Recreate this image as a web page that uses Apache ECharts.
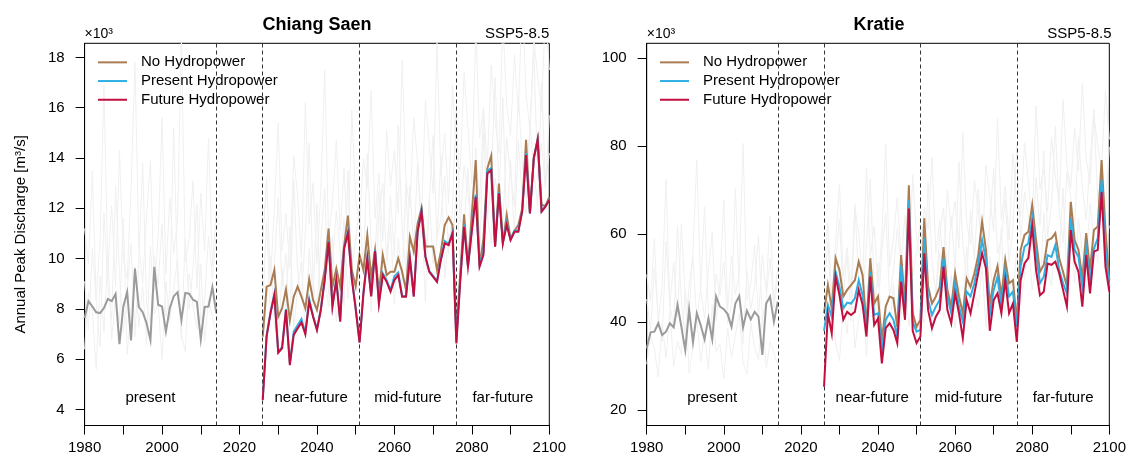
<!DOCTYPE html>
<html>
<head>
<meta charset="utf-8">
<script src="https://cdn.jsdelivr.net/npm/echarts@6/dist/echarts.min.js"></script>
<style>
  html, body { margin: 0; padding: 0; background: #fff; }
  #chart { width: 1129px; height: 461px; }
</style>
</head>
<body>
<div id="chart"></div>
<script>
// ---- axes, periods and ticks ----
const presentYears = yearSpan(1980, 2014);
const futureYears = yearSpan(2026, 2100);
const xTickYears = [1980, 1990, 2000, 2010, 2020, 2030, 2040, 2050, 2060, 2070, 2080, 2090, 2100];
const xLabelYears = [1980, 2000, 2020, 2040, 2060, 2080, 2100];
const periodBreaks = [2014, 2026, 2051, 2076];
const periodNames = ['present', 'near-future', 'mid-future', 'far-future'];
const periodSpans = [[1980, 2014], [2026, 2051], [2051, 2076], [2076, 2100]];
const csTicks = [4, 6, 8, 10, 12, 14, 16, 18];
const krTicks = [20, 40, 60, 80, 100];
const scenarioNames = ['No Hydropower', 'Present Hydropower', 'Future Hydropower'];

function yearSpan(a, b) { const r = []; for (let y = a; y <= b; y++) r.push(y); return r; }

// ---- Chiang Saen, annual peak discharge (x10^3 m3/s) ----
const csPresent = [7.64, 8.31, 8.1, 7.87, 7.84, 8.04, 8.4, 8.31, 8.6, 6.6, 8.1, 8.67, 6.75, 9.61, 8.08, 7.87, 7.44, 6.77, 9.68, 8.17, 8.1, 7.1, 8.04, 8.5, 8.67, 7.57, 8.64, 8.61, 8.37, 8.28, 6.8, 8.08, 8.1, 8.87, 7.84];
const csNoHydro = [
  6.9, 8.89, 8.95, 9.55, 7.69, 8.03, 8.78, 7.56, 8.49, 8.89, 8.49, 8.03, 9.18, 8.36, 7.96, 8.75, 9.55, 11.2, 8.89, 9.61, 8.9, 10.5, 11.71, 9.55, 8.9,
  10.14, 9.55, 10.94, 9.28, 10.34, 8.62, 10.14, 9.35, 9.48, 9.48, 10.01, 9.48, 8.75, 10.87, 10.28, 11.4, 12.0, 10.48, 10.48, 10.48, 9.55, 10.28, 11.34, 11.64, 11.34,
  7.0, 9.4, 11.76, 9.7, 11.8, 13.92, 9.7, 10.81, 13.59, 14.09, 10.5, 12.99, 10.65, 11.74, 10.8, 11.1, 11.34, 12.0, 14.72, 11.85, 14.0, 14.78, 12.13, 12.1, 12.46
];
const csPresentHydro = [
  4.45, 6.95, 7.86, 8.6, 6.3, 6.5, 8.0, 5.85, 7.1, 7.35, 7.6, 7.05, 8.4, 7.72, 7.2, 8.0, 9.2, 10.72, 8.12, 9.18, 7.55, 10.42, 11.08, 9.25, 8.05,
  6.7, 8.65, 10.05, 8.55, 10.35, 8.25, 9.42, 9.15, 8.75, 9.3, 9.45, 8.52, 8.52, 10.05, 8.52, 11.12, 11.95, 10.1, 9.52, 9.32, 9.1, 9.98, 10.7, 10.58, 11.05,
  6.7, 9.2, 11.35, 9.7, 11.2, 12.55, 9.8, 10.25, 13.5, 13.6, 10.5, 12.65, 10.62, 11.42, 10.76, 11.12, 11.1, 11.9, 14.2, 11.8, 14.0, 14.74, 11.9, 12.08, 12.35
];
const csFutureHydro = [
  4.38, 6.9, 7.83, 8.55, 6.26, 6.44, 7.96, 5.77, 6.97, 7.23, 7.46, 7.0, 8.29, 7.69, 7.16, 7.96, 9.15, 10.67, 8.09, 9.15, 7.5, 10.4, 11.01, 9.2, 8.0,
  6.66, 8.6, 10.0, 8.5, 10.3, 8.2, 9.35, 9.08, 8.69, 9.15, 9.35, 8.49, 8.49, 10.01, 8.49, 11.07, 11.87, 10.08, 9.48, 9.28, 9.08, 9.95, 10.61, 10.54, 11.0,
  6.63, 9.1, 11.27, 9.68, 11.1, 12.46, 9.68, 10.15, 13.39, 13.52, 10.48, 12.6, 10.61, 11.34, 10.74, 11.07, 11.07, 11.87, 14.12, 11.8, 14.0, 14.72, 11.87, 12.07, 12.33
];
// individual climate-model members (pale background)
const csMemberAPast = [9.1, 7.2, 10.4, 8.3, 6.5, 11.8, 8.9, 7.6, 12.9, 9.4, 7.1, 8.8, 10.6, 6.9, 9.9, 13.8, 8.2, 7.4, 10.1, 9.0, 11.4, 7.7, 8.6, 15.2, 9.3, 6.8, 10.8, 8.0, 9.6, 12.2, 7.5, 8.4, 10.9, 9.2, 11.0];
const csMemberAFuture = [8.2, 11.5, 7.6, 9.8, 12.4, 8.9, 10.2, 7.3, 13.1, 9.5, 8.4, 11.0, 14.6, 9.1, 7.9, 10.7, 12.8, 8.6, 9.9, 11.9, 10.3, 8.1, 13.5, 9.6, 10.8, 12.1, 9.4, 14.2, 10.6, 8.8, 11.7, 13.0, 9.9, 12.5, 10.1, 15.3, 11.2, 9.5, 12.9, 10.4, 13.8, 11.0, 9.7, 12.3, 14.9, 10.8, 11.6, 13.3, 10.2, 12.0, 16.1, 11.4, 13.7, 12.6, 10.9, 14.4, 12.2, 15.8, 11.5, 13.1, 17.2, 12.7, 11.3, 14.8, 13.4, 12.1, 16.5, 13.9, 12.4, 15.1, 18.3, 13.2, 14.6, 12.8, 15.7];
const csMemberBPast = [6.4, 8.7, 7.9, 5.6, 9.3, 7.1, 10.2, 6.8, 8.5, 7.4, 11.6, 6.2, 8.0, 9.7, 7.3, 8.9, 6.6, 10.5, 7.8, 8.2, 6.0, 9.1, 7.5, 8.8, 10.0, 7.0, 6.3, 9.4, 8.1, 7.2, 9.8, 6.7, 8.4, 7.7, 6.9];
const csMemberBFuture = [6.9, 8.3, 10.1, 7.4, 6.5, 9.6, 8.0, 11.3, 7.2, 8.8, 9.9, 6.8, 10.4, 8.5, 12.2, 7.7, 9.3, 8.1, 10.9, 7.5, 9.0, 11.6, 8.4, 10.0, 7.8, 9.4, 8.6, 11.1, 7.9, 10.3, 12.7, 8.9, 9.7, 11.4, 8.2, 10.8, 9.1, 13.0, 8.7, 10.5, 9.5, 11.8, 8.3, 12.4, 9.8, 10.7, 14.1, 9.2, 11.0, 10.2, 12.9, 9.6, 11.3, 13.6, 10.4, 12.0, 9.9, 15.0, 11.7, 10.6, 13.2, 12.3, 16.4, 11.1, 13.9, 10.9, 14.7, 12.5, 11.8, 15.5, 13.4, 12.1, 17.0, 13.0, 14.2];
const csMemberCPast = [11.2, 9.8, 13.5, 8.4, 10.7, 16.9, 9.6, 12.1, 8.9, 14.3, 10.0, 9.2, 12.8, 17.8, 10.5, 9.0, 11.7, 13.9, 8.7, 10.9, 15.6, 9.4, 12.4, 10.2, 11.5, 18.9, 9.9, 10.8, 13.1, 8.8, 12.6, 10.3, 14.8, 9.7, 11.9];
const csMemberCFuture = [10.6, 13.2, 9.1, 12.0, 15.4, 10.3, 11.8, 9.6, 14.1, 12.5, 10.0, 16.2, 11.4, 13.0, 9.8, 12.7, 17.5, 10.9, 12.2, 14.7, 11.1, 13.6, 10.4, 15.9, 12.4, 11.3, 14.0, 12.8, 16.7, 11.6, 13.4, 10.7, 15.1, 12.9, 14.3, 11.8, 17.9, 13.1, 12.0, 15.6, 13.8, 11.5, 16.3, 14.5, 12.6, 18.6, 13.3, 15.0, 12.2, 16.9, 14.1, 13.5, 17.4, 15.2, 13.0, 19.2, 14.8, 16.0, 13.7, 17.7, 15.5, 14.2, 19.5, 16.1, 14.9, 18.1, 15.8, 20.3, 16.6, 15.1, 18.8, 17.2, 15.9, 19.9, 17.5];

// ---- Kratie, annual peak discharge (x10^3 m3/s) ----
const krPresent = [34.0, 37.65, 37.8, 39.7, 37.05, 37.8, 39.7, 38.8, 43.9, 38.9, 33.6, 42.9, 35.4, 42.0, 39.3, 36.1, 40.8, 36.1, 45.8, 43.5, 42.9, 41.8, 38.9, 44.2, 45.9, 38.8, 42.6, 40.6, 42.3, 41.2, 32.5, 44.2, 45.8, 40.1, 44.6];
const krNoHydro = [
  42.0, 48.4, 43.1, 54.5, 51.8, 45.8, 47.3, 48.4, 49.5, 53.7, 50.7, 39.0, 54.5, 44.2, 45.8, 35.9, 43.5, 45.8, 45.4, 38.9, 55.2, 43.9, 71.1, 42.0, 38.9,
  40.5, 63.6, 48.0, 44.2, 45.8, 48.0, 57.0, 47.3, 43.5, 51.1, 45.8, 42.0, 49.9, 48.0, 51.1, 55.2, 62.8, 56.4, 43.9, 49.5, 52.7, 45.8, 54.1, 48.8, 49.5,
  40.1, 56.4, 59.8, 60.5, 66.6, 58.6, 51.4, 53.0, 58.6, 59.0, 60.2, 54.5, 51.4, 48.0, 67.3, 58.6, 56.4, 49.9, 60.2, 51.8, 60.9, 61.7, 76.8, 60.9, 49.5
];
const krPresentHydro = [
  38.0, 43.9, 41.2, 51.4, 48.0, 43.1, 44.4, 44.2, 45.4, 49.5, 46.1, 38.0, 51.4, 41.6, 42.0, 33.6, 40.5, 42.0, 40.5, 36.7, 52.9, 42.0, 67.7, 40.0, 37.8,
  38.2, 59.0, 45.0, 41.6, 43.5, 45.0, 54.5, 45.8, 42.0, 48.8, 43.5, 40.1, 46.9, 45.8, 48.8, 53.3, 58.6, 54.1, 41.6, 47.3, 50.3, 43.5, 51.8, 45.8, 46.9,
  38.9, 52.6, 57.1, 57.9, 63.6, 55.6, 48.8, 50.3, 55.2, 54.8, 57.5, 51.8, 48.8, 46.5, 63.6, 56.4, 54.8, 48.0, 56.7, 49.5, 56.7, 59.0, 72.3, 56.4, 48.0
];
const krFutureHydro = [
  25.3, 42.0, 37.4, 50.3, 46.1, 40.5, 42.3, 41.6, 42.3, 47.3, 43.9, 36.7, 50.3, 39.3, 40.8, 30.6, 38.6, 39.7, 38.2, 35.2, 49.2, 40.5, 65.8, 38.0, 35.2,
  36.7, 55.6, 42.7, 38.6, 41.2, 42.7, 52.6, 42.7, 39.7, 46.5, 42.0, 36.3, 45.0, 42.0, 46.5, 51.1, 55.6, 52.2, 38.0, 45.0, 46.5, 42.0, 49.5, 42.0, 44.2,
  35.5, 49.5, 53.3, 54.5, 61.7, 51.8, 46.1, 46.9, 53.3, 53.0, 53.7, 51.1, 47.3, 43.5, 60.9, 53.7, 51.4, 43.5, 55.2, 46.5, 56.0, 56.4, 69.6, 52.6, 46.9
];
const krMemberAPast = [45.2, 38.1, 52.3, 41.0, 35.6, 58.4, 43.7, 39.2, 62.0, 44.8, 36.9, 48.5, 55.1, 40.3, 47.6, 66.2, 42.4, 37.8, 50.9, 46.1, 53.8, 39.5, 44.0, 70.3, 47.2, 35.1, 51.6, 42.9, 48.0, 59.7, 40.8, 45.5, 54.4, 43.3, 49.6];
const krMemberAFuture = [47.5, 58.2, 41.9, 52.8, 63.4, 46.0, 55.1, 40.2, 66.7, 49.3, 44.6, 57.9, 72.5, 48.1, 42.3, 56.0, 64.8, 45.7, 51.4, 61.2, 53.0, 43.8, 69.1, 50.5, 55.9, 62.7, 48.8, 71.6, 54.2, 46.4, 59.8, 66.0, 51.3, 63.9, 52.2, 76.4, 57.6, 49.9, 65.3, 54.0, 70.1, 56.8, 50.7, 62.4, 74.9, 55.5, 59.1, 67.8, 53.6, 61.0, 80.2, 58.3, 69.5, 64.1, 56.2, 72.8, 62.0, 78.9, 59.4, 66.6, 84.5, 64.7, 58.0, 74.0, 68.3, 61.8, 82.1, 70.6, 63.2, 76.7, 88.4, 67.1, 73.5, 65.4, 79.8];
const krMemberBPast = [30.4, 36.8, 33.9, 27.5, 39.7, 31.8, 42.6, 29.9, 35.7, 32.6, 47.3, 28.4, 34.5, 40.8, 31.0, 37.4, 29.2, 44.1, 33.3, 35.0, 27.0, 38.6, 32.0, 37.0, 41.9, 30.7, 28.0, 39.9, 34.2, 31.4, 41.2, 29.5, 35.4, 33.0, 30.1];
const krMemberBFuture = [33.5, 38.9, 45.7, 35.0, 31.2, 43.6, 37.3, 50.1, 34.1, 40.4, 44.9, 32.3, 47.0, 38.8, 53.4, 36.2, 42.5, 37.9, 48.7, 35.4, 41.1, 51.6, 39.0, 45.2, 36.7, 42.9, 39.8, 49.5, 37.1, 46.3, 55.8, 40.9, 44.0, 50.7, 38.5, 48.2, 41.8, 57.0, 40.1, 47.1, 43.4, 52.6, 38.7, 54.8, 44.6, 48.0, 61.3, 42.2, 49.3, 46.0, 56.5, 43.9, 50.4, 59.6, 47.2, 53.5, 45.1, 64.8, 51.9, 48.1, 58.0, 54.6, 70.4, 49.6, 60.8, 48.9, 63.7, 55.4, 52.5, 66.9, 58.8, 53.7, 72.9, 57.2, 61.9];
const krMemberCPast = [50.8, 44.6, 58.9, 39.8, 48.2, 72.4, 43.5, 53.6, 41.1, 62.3, 46.0, 42.2, 56.3, 76.9, 47.4, 40.9, 51.5, 60.4, 40.3, 49.1, 67.8, 42.7, 54.9, 46.3, 51.0, 80.6, 45.0, 48.7, 57.5, 40.6, 55.2, 46.9, 64.1, 44.1, 52.6];
const krMemberCFuture = [52.0, 62.5, 45.3, 58.1, 71.2, 50.4, 56.9, 47.2, 66.0, 60.3, 49.0, 75.1, 54.8, 61.7, 47.9, 60.0, 80.3, 52.7, 58.6, 68.4, 53.9, 64.2, 50.6, 73.5, 59.2, 54.4, 66.2, 61.0, 77.4, 55.7, 63.1, 51.8, 70.0, 61.5, 67.5, 56.9, 83.0, 62.6, 57.5, 72.2, 65.6, 55.3, 75.7, 68.7, 60.4, 86.2, 63.3, 70.9, 58.6, 78.3, 66.8, 64.0, 80.7, 71.9, 62.1, 89.1, 70.2, 74.8, 65.2, 82.0, 73.1, 67.4, 90.5, 75.5, 70.6, 84.0, 74.4, 94.2, 77.3, 71.4, 87.1, 80.0, 74.9, 92.6, 81.5];

// ---- styling ----
const FONT = '"Liberation Sans", Arial, Helvetica, sans-serif';
const COLOR_NO = '#a97c53';
const COLOR_PRESENT = '#2eaee3';
const COLOR_FUTURE = '#c10f3f';
const COLOR_OBS = '#9b9b9b';
const COLOR_MEMBER = '#f0f0f0';

const gridBox = [
  { left: 84.6, top: 43.3, width: 464.7, height: 382.2 },
  { left: 646.7, top: 43.3, width: 464.8, height: 382.2 }
];

function line(name, years, values, color, width, gi, z) {
  return {
    type: 'line', name: name, xAxisIndex: gi, yAxisIndex: gi,
    data: years.map((y, i) => [y, values[i]]),
    symbol: 'none', showSymbol: false, silent: true, animation: false,
    lineStyle: { color: color, width: width, join: 'miter' },
    itemStyle: { color: color }, z: z
  };
}

function periodMarks() {
  return {
    silent: true, symbol: ['none', 'none'], label: { show: false },
    lineStyle: { color: '#333', width: 1, type: [4, 3] },
    data: periodBreaks.map(x => ({ xAxis: x }))
  };
}

function panelSeries(gi, past, no, pres, fut, members) {
  const s = [];
  members.forEach(m => {
    s.push(line(undefined, presentYears, m[0], COLOR_MEMBER, 1, gi, 1));
    s.push(line(undefined, futureYears, m[1], COLOR_MEMBER, 1, gi, 1));
  });
  const obs = line(undefined, presentYears, past, COLOR_OBS, 2, gi, 3);
  obs.markLine = periodMarks();
  s.push(obs);
  s.push(line(scenarioNames[0], futureYears, no, COLOR_NO, 2, gi, 4));
  s.push(line(scenarioNames[1], futureYears, pres, COLOR_PRESENT, 2, gi, 5));
  s.push(line(scenarioNames[2], futureYears, fut, COLOR_FUTURE, 2, gi, 6));
  return s;
}

function xAxis(gi) {
  return {
    gridIndex: gi, type: 'value', min: 1980, max: 2100,
    axisLine: { show: true, onZero: false, lineStyle: { color: '#000', width: 1 } },
    axisTick: { show: true, length: 9, customValues: xTickYears, lineStyle: { color: '#000' } },
    axisLabel: { customValues: xLabelYears, fontSize: 15, color: '#000', margin: 15, fontFamily: FONT,
      formatter: v => String(v) },
    splitLine: { show: false }
  };
}

function yAxis(gi, min, max, ticks, withName) {
  const ax = {
    gridIndex: gi, type: 'value', min: min, max: max,
    axisLine: { show: true, lineStyle: { color: '#000', width: 1 } },
    axisTick: { show: true, length: 9, customValues: ticks, lineStyle: { color: '#000' } },
    axisLabel: { customValues: ticks, fontSize: 15, color: '#000', margin: 20, fontFamily: FONT,
      formatter: v => String(v) },
    splitLine: { show: false }
  };
  if (withName) {
    ax.name = 'Annual Peak Discharge [m³/s]';
    ax.nameLocation = 'middle';
    ax.nameGap = 56;
    ax.nameRotate = 90;
    ax.nameTextStyle = { fontSize: 15, color: '#000', fontFamily: FONT };
  }
  return ax;
}

function legend(left) {
  return {
    left: left, top: 53, orient: 'vertical', padding: 0,
    icon: 'rect', itemWidth: 29, itemHeight: 2, itemGap: 0, selectedMode: false,
    data: scenarioNames,
    textStyle: { fontSize: 15, color: '#000', fontFamily: FONT, lineHeight: 18.7, padding: [0, 0, 0, 9] }
  };
}

const chart = echarts.init(document.getElementById('chart'), null, { renderer: 'canvas' });

chart.setOption({
  animation: false,
  backgroundColor: '#fff',
  grid: gridBox.map(g => Object.assign({ show: true, borderColor: '#000', borderWidth: 1, backgroundColor: 'transparent' }, g)),
  xAxis: [xAxis(0), xAxis(1)],
  yAxis: [yAxis(0, 3.37, 18.56, csTicks, true), yAxis(1, 16.48, 103.34, krTicks, false)],
  legend: [legend(98), legend(660)],
  series: []
    .concat(panelSeries(0, csPresent, csNoHydro, csPresentHydro, csFutureHydro,
      [[csMemberAPast, csMemberAFuture], [csMemberBPast, csMemberBFuture], [csMemberCPast, csMemberCFuture]]))
    .concat(panelSeries(1, krPresent, krNoHydro, krPresentHydro, krFutureHydro,
      [[krMemberAPast, krMemberAFuture], [krMemberBPast, krMemberBFuture], [krMemberCPast, krMemberCFuture]]))
});

// titles, unit note, scenario tag and period names
const panelTitles = ['Chiang Saen', 'Kratie'];
const texts = [];
function text(x, y, str, align, font) {
  return { type: 'text', x: x, y: y, silent: true, z: 10,
    style: { text: str, align: align, verticalAlign: 'middle', font: font, fill: '#000' } };
}
gridBox.forEach((g, gi) => {
  texts.push(text(g.left + g.width / 2, 25, panelTitles[gi], 'center', 'bold 18px ' + FONT));
  texts.push(text(g.left, 34, '×10³', 'left', '14px ' + FONT));
  texts.push(text(g.left + g.width, 34, 'SSP5-8.5', 'right', '15px ' + FONT));
  periodSpans.forEach((p, k) => {
    const px = chart.convertToPixel({ xAxisIndex: gi }, (p[0] + p[1]) / 2);
    texts.push(text(px, 397.5, periodNames[k], 'center', '15px ' + FONT));
  });
});
chart.setOption({ graphic: texts });
</script>
</body>
</html>
